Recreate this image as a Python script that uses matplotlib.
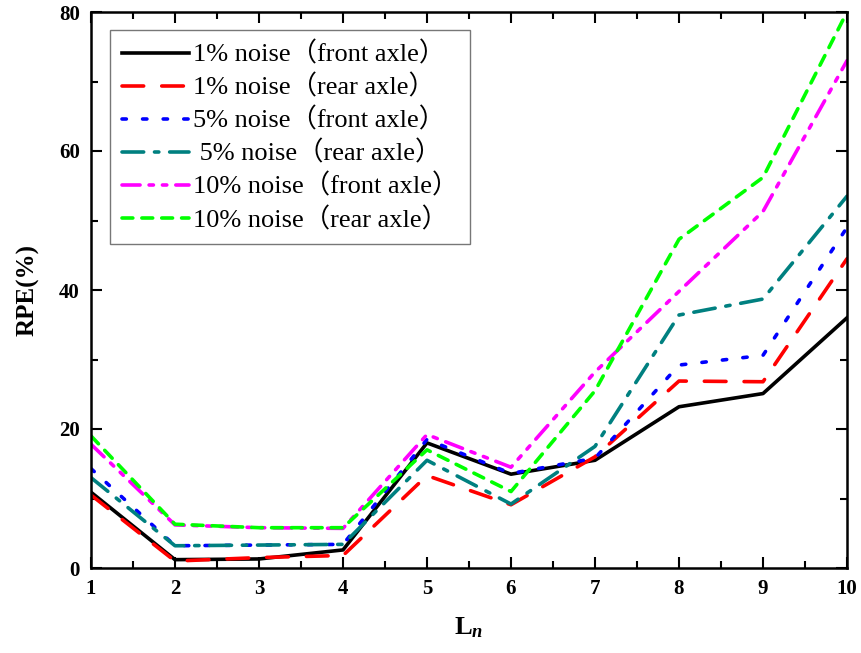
import matplotlib
matplotlib.use("Agg")
import matplotlib.pyplot as plt
from matplotlib.ticker import MultipleLocator

x = [1, 2, 3, 4, 5, 6, 7, 8, 9, 10]
front_1 = [10.9, 1.2, 1.3, 2.6, 18.0, 13.5, 15.5, 23.2, 25.1, 36.0]
rear_1 = [10.5, 1.0, 1.5, 1.8, 13.3, 9.1, 16.0, 26.9, 26.8, 44.5]
front_5 = [14.3, 3.2, 3.3, 3.4, 18.5, 13.6, 15.8, 29.2, 30.6, 49.0]
rear_5 = [13.0, 3.2, 3.3, 3.4, 15.5, 9.2, 17.5, 36.4, 38.7, 53.5]
front_10 = [17.8, 6.2, 5.8, 5.7, 19.2, 14.5, 28.2, 39.8, 51.3, 73.0]
rear_10 = [19.0, 6.3, 5.8, 5.8, 17.0, 11.0, 25.5, 47.3, 56.2, 80.0]

labels = ["1% noise（front axle）", "1% noise（rear axle）",
          "5% noise（front axle）", " 5% noise（rear axle）",
          "10% noise（front axle）", "10% noise（rear axle）"]

serif = ["Liberation Serif", "Noto Sans CJK SC", "DejaVu Sans"]
plt.rcParams["font.family"] = serif
plt.rcParams["mathtext.fontset"] = "custom"
plt.rcParams["mathtext.rm"] = "Liberation Serif"
plt.rcParams["mathtext.bf"] = "Liberation Serif:bold"
plt.rcParams["mathtext.it"] = "Liberation Serif:italic:bold"

fig = plt.figure(figsize=(8.61, 6.53), dpi=100)
ax = fig.add_axes([91/861, 85/653, (847-91)/861, (568-12)/653])

lw = 2.6
ax.plot(x, front_1, color="black", lw=lw, linestyle="-", label=labels[0])
ax.plot(x, rear_1, color="#ff0000", lw=lw, linestyle=(0, (6, 5)), label=labels[1], dash_capstyle="round")
ax.plot(x, front_5, color="#0000ff", lw=lw, linestyle=(0, (1.2, 4.5)), label=labels[2], dash_capstyle="round")
ax.plot(x, rear_5, color="#008080", lw=lw, linestyle=(0, (6, 3, 1.2, 3)), label=labels[3], dash_capstyle="round")
ax.plot(x, front_10, color="#ff00ff", lw=lw, linestyle=(0, (5, 2.5, 1.2, 2.5, 1.2, 2.5)), label=labels[4], dash_capstyle="round")
ax.plot(x, rear_10, color="#00ff00", lw=lw, linestyle=(0, (3, 2.5)), label=labels[5], dash_capstyle="round")

ax.set_xlim(1, 10)
ax.set_ylim(0, 80)
ax.xaxis.set_major_locator(MultipleLocator(1))
ax.xaxis.set_minor_locator(MultipleLocator(0.5))
ax.yaxis.set_major_locator(MultipleLocator(20))
ax.yaxis.set_minor_locator(MultipleLocator(10))
ax.tick_params(which="both", direction="in", top=True, right=True, width=1.5)
ax.tick_params(which="major", length=8, labelsize=15, pad=8)
ax.tick_params(which="minor", length=5)
for lab in ax.get_xticklabels() + ax.get_yticklabels():
    lab.set_fontweight("bold")
    lab.set_family(serif)
for s in ax.spines.values():
    s.set_linewidth(1.8)

ax.set_xlabel(r"$\mathbf{L}_{\mathit{n}}$", fontsize=19, labelpad=12)
ax.set_ylabel("RPE(%)", fontsize=18, fontweight="bold", labelpad=14)

leg = ax.legend(loc="upper left", bbox_to_anchor=(0.025, 0.968), borderaxespad=0,
                handlelength=2.55, handletextpad=0.15, labelspacing=0.3,
                borderpad=0.45, frameon=True, fancybox=False, edgecolor="#555555",
                prop={"family": serif, "size": 19})
leg.get_frame().set_linewidth(1.0)

fig.savefig("out.png", dpi=100)
